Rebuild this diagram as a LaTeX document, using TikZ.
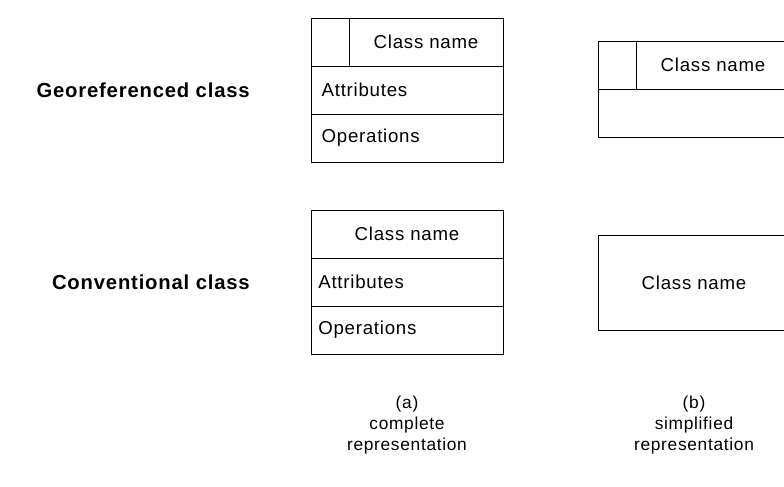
\documentclass[tikz,border=0pt]{standalone}
\usepackage{fontspec}
\setmainfont[LetterSpace=4]{Liberation Sans}
\usetikzlibrary{positioning}

\tikzset{
  part/.style={draw, line width=0.6pt, inner sep=0pt, outer sep=0pt,
    minimum height=36pt, font=\fontsize{14}{16}\selectfont},
  listpart/.style={part, minimum width=144pt, text width=130pt,
    inner xsep=7pt, align=left},
  tagpart/.style={part, minimum width=28.5pt},
  namepart/.style={part, minimum width=115.5pt},
  rowlabel/.style={font=\fontsize{15.2}{17}\selectfont\bfseries, anchor=east, inner sep=0pt},
  caption/.style={font=\fontsize{13}{15.75}\selectfont, align=center}
}

\begin{document}
\begin{tikzpicture}[x=0.75pt, y=-0.75pt]
\useasboundingbox (0,0) rectangle (784,486);
\clip (0,0) rectangle (784,486);

% Row labels
\node[rowlabel] (geolabel) at (250,90) {Georeferenced class};
\node[rowlabel] (convlabel) at (250,282) {Conventional class};

% (a) complete, georeferenced
\node[tagpart, anchor=north west] (geotag) at (311,18) {};
\node[namepart, right=0pt of geotag] (geoname) {Class name};
\node[listpart, inner xsep=8pt, text width=128pt, anchor=north west] (geoattr) at (geotag.south west) {Attributes};
\node[listpart, inner xsep=8pt, text width=128pt, below=0pt of geoattr] (geoops) {Operations};

% (a) complete, conventional
\node[part, minimum width=144pt, anchor=north west] (convname) at (311,210) {Class name};
\node[listpart, inner xsep=5.5pt, text width=133pt, below=0pt of convname] (convattr) {Attributes};
\node[listpart, inner xsep=5.5pt, text width=133pt, below=0pt of convattr] (convops) {Operations};

% (b) simplified, georeferenced
\node[tagpart, anchor=north west] (sgeotag) at (598,41) {};
\node[namepart, right=0pt of sgeotag] (sgeoname) {Class name};
\node[part, minimum width=144pt, anchor=north west] (sgeobody) at (sgeotag.south west) {};

% (b) simplified, conventional
\node[part, minimum width=144pt, minimum height=71.25pt, anchor=north west] (sconv) at (598,235) {Class name};

% Captions
\node[caption] (capa) at (407,425) {(a)\\complete\\representation};
\node[caption] (capb) at (694,425) {(b)\\simplified\\representation};

\end{tikzpicture}
\end{document}
